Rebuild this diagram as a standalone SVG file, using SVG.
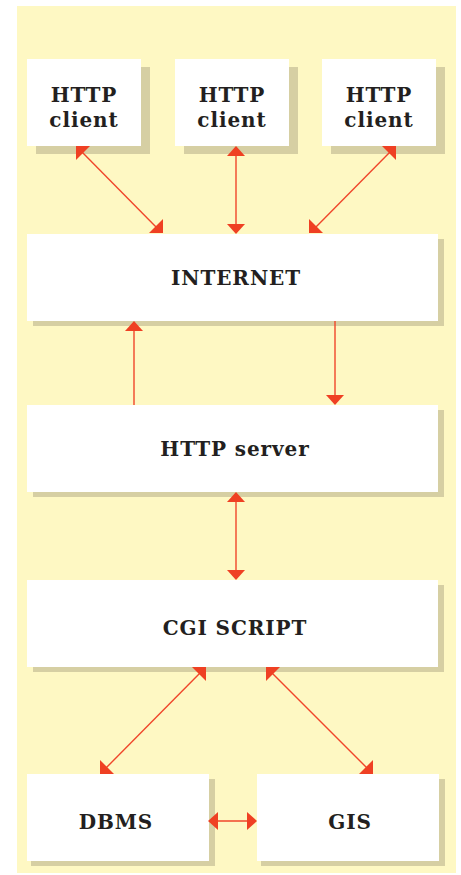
<svg xmlns="http://www.w3.org/2000/svg" width="461" height="875" viewBox="0 0 461 875">
  <style>
    .box { fill: #ffffff; }
    .shadow { fill: #d6cfa3; }
    .lbl { font-family: "DejaVu Serif", "Liberation Serif", serif; font-weight: bold; font-size: 20px; fill: #231f20; text-anchor: middle; letter-spacing: 0.9px; }
    .wire { stroke: #f0462a; stroke-width: 1.4; fill: none; }
    .head { fill: #ef4023; }
  </style>
  <rect x="0" y="0" width="461" height="875" fill="#ffffff"/>
  <rect x="17" y="6" width="439" height="867" fill="#fef8c3"/>

  <g id="client1">
    <rect class="shadow" x="36" y="67" width="114" height="87"/>
    <rect class="box" x="27" y="59" width="114" height="87"/>
    <text class="lbl" x="84" y="102">HTTP</text>
    <text class="lbl" x="84" y="127">client</text>
  </g>
  <g id="client2">
    <rect class="shadow" x="184" y="67" width="114" height="87"/>
    <rect class="box" x="175" y="59" width="114" height="87"/>
    <text class="lbl" x="232" y="102">HTTP</text>
    <text class="lbl" x="232" y="127">client</text>
  </g>
  <g id="client3">
    <rect class="shadow" x="331" y="67" width="114" height="87"/>
    <rect class="box" x="322" y="59" width="114" height="87"/>
    <text class="lbl" x="379" y="102">HTTP</text>
    <text class="lbl" x="379" y="127">client</text>
  </g>
  <g id="internet">
    <rect class="shadow" x="33" y="239" width="411" height="87"/>
    <rect class="box" x="27" y="234" width="411" height="87"/>
    <text class="lbl" x="236" y="285">INTERNET</text>
  </g>
  <g id="server">
    <rect class="shadow" x="33" y="410" width="411" height="87"/>
    <rect class="box" x="27" y="405" width="411" height="87"/>
    <text class="lbl" x="235" y="456">HTTP server</text>
  </g>
  <g id="cgi">
    <rect class="shadow" x="33" y="585" width="411" height="87"/>
    <rect class="box" x="27" y="580" width="411" height="87"/>
    <text class="lbl" x="235" y="635">CGI SCRIPT</text>
  </g>
  <g id="dbms">
    <rect class="shadow" x="31" y="779" width="184" height="87"/>
    <rect class="box" x="27" y="774" width="182" height="87"/>
    <text class="lbl" x="116" y="829">DBMS</text>
  </g>
  <g id="gis">
    <rect class="shadow" x="261" y="779" width="184" height="87"/>
    <rect class="box" x="257" y="774" width="182" height="87"/>
    <text class="lbl" x="350" y="829">GIS</text>
  </g>

  <g id="connectors">
    <!-- client1 <-> internet -->
    <line class="wire" x1="80" y1="150" x2="159" y2="230"/>
    <polygon class="head" points="76,146 90,146 76,160"/>
    <polygon class="head" points="163,233 149,233 163,219"/>
    <!-- client2 <-> internet -->
    <line class="wire" x1="236" y1="150" x2="236" y2="230"/>
    <polygon class="head" points="236,146 227,156 245,156"/>
    <polygon class="head" points="236,234 227,224 245,224"/>
    <!-- client3 <-> internet -->
    <line class="wire" x1="392" y1="150" x2="313" y2="230"/>
    <polygon class="head" points="396,146 382,146 396,160"/>
    <polygon class="head" points="309,233 323,233 309,219"/>
    <!-- server -> internet -->
    <line class="wire" x1="134" y1="405" x2="134" y2="328"/>
    <polygon class="head" points="134,321 125,331 143,331"/>
    <!-- internet -> server -->
    <line class="wire" x1="335" y1="321" x2="335" y2="398"/>
    <polygon class="head" points="335,405 326,395 344,395"/>
    <!-- server <-> cgi -->
    <line class="wire" x1="236" y1="496" x2="236" y2="576"/>
    <polygon class="head" points="236,492 227,502 245,502"/>
    <polygon class="head" points="236,580 227,570 245,570"/>
    <!-- cgi <-> dbms -->
    <line class="wire" x1="202" y1="671" x2="104" y2="770"/>
    <polygon class="head" points="206,667 192,667 206,681"/>
    <polygon class="head" points="100,774 114,774 100,760"/>
    <!-- cgi <-> gis -->
    <line class="wire" x1="270" y1="671" x2="369" y2="770"/>
    <polygon class="head" points="266,667 280,667 266,681"/>
    <polygon class="head" points="373,774 359,774 373,760"/>
    <!-- dbms <-> gis -->
    <line class="wire" x1="212" y1="821" x2="253" y2="821"/>
    <polygon class="head" points="208,821 218,812 218,830"/>
    <polygon class="head" points="257,821 247,812 247,830"/>
  </g>
</svg>
